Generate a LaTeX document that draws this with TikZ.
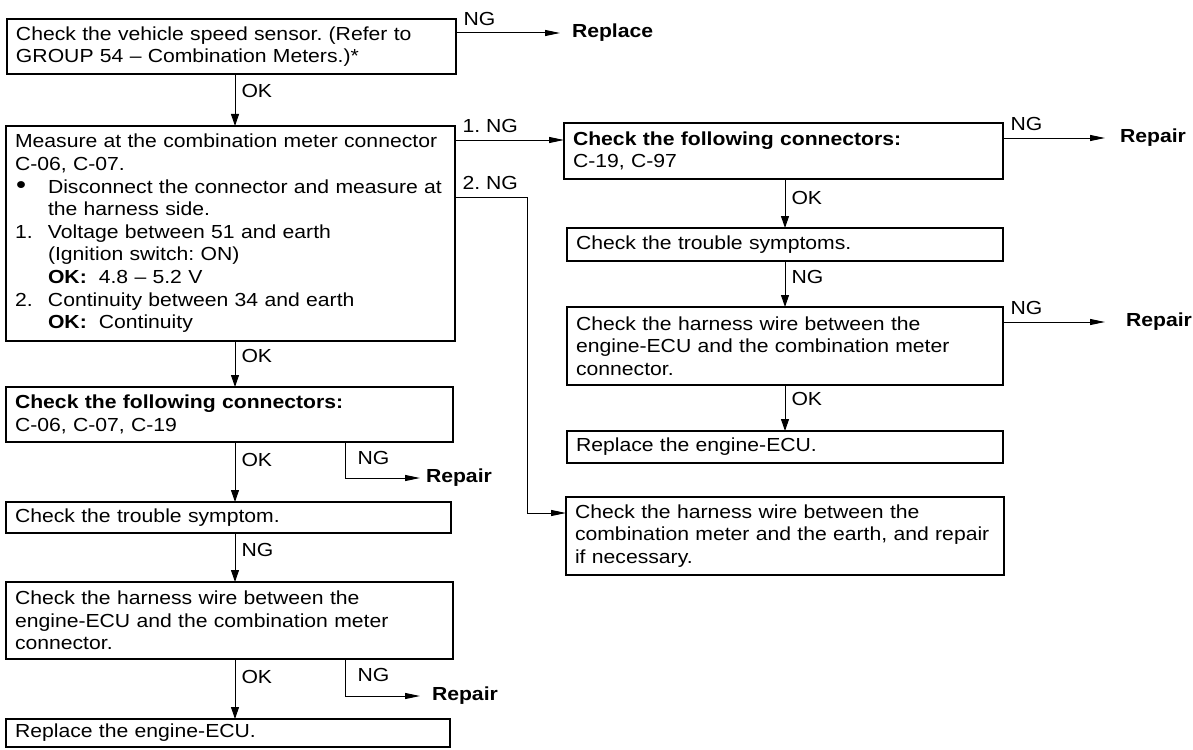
\documentclass[tikz,border=0pt]{standalone}
\usepackage{fontspec}
\setmainfont[FakeStretch=1.12]{Liberation Sans}
\usetikzlibrary{arrows.meta,positioning}
\tikzset
{
    chkbox/.style = {draw=black, line width=1.3pt, anchor=north west, align=left, inner xsep=9pt, inner ysep=0pt, outer sep=0pt},
    result/.style = {anchor=west, font=\bfseries, inner xsep=12pt, inner ysep=0pt, outer sep=0pt},
    lbl/.style    = {inner sep=6pt},
    flow/.style   = {line width=1pt, -{Triangle[length=12pt,width=8pt]}},
    side/.style   = {line width=1pt, -{Triangle[length=15pt,width=6pt]}}
}
\newcommand{\blt}{\makebox[33pt][l]{\kern1pt\scalebox{1.35}{\textbullet}}}

\begin{document}
\fontsize{18.9}{22.6}\selectfont
\frenchspacing
\spaceskip=7.3pt plus 1pt\relax
\begin{tikzpicture}[x=1pt, y=-1pt]
\useasboundingbox (0,0) rectangle (1193,749);

%% left column
\node (vss)  [chkbox, text width=431pt, minimum height=55pt]  at (7,19)   {Check the vehicle speed sensor. (Refer to\\GROUP 54 – Combination Meters.)*};
\node (meas) [chkbox, text width=431pt, minimum height=215pt] at (6,126)  {Measure at the combination meter connector\\C-06, C-07.\\\blt Disconnect the connector and measure at\\\hspace*{33pt}the harness side.\\\makebox[33pt][l]{1.}Voltage between 51 and earth\\\hspace*{33pt}(Ignition switch: ON)\\\hspace*{33pt}\textbf{OK:}\hspace{12pt}4.8 – 5.2 V\\\makebox[33pt][l]{2.}Continuity between 34 and earth\\\hspace*{33pt}\textbf{OK:}\hspace{12pt}Continuity};
\node (cn)   [chkbox, text width=429pt, minimum height=55pt]  at (6,387)  {\textbf{Check the following connectors:}\\C-06, C-07, C-19};
\node (ts)   [chkbox, text width=427pt, minimum height=31pt]  at (6,502)  {Check the trouble symptom.};
\node (hw)   [chkbox, text width=429pt, minimum height=77pt]  at (6,582)  {Check the harness wire between the\\engine-ECU and the combination meter\\connector.};
\node (ecu)  [chkbox, text width=426pt, minimum height=28pt]  at (6,719)  {Replace the engine-ECU.};

%% right column
\node (rcn)  [chkbox, text width=421pt, minimum height=56pt]  at (564,123) {\textbf{Check the following connectors:}\\C-19, C-97};
\node (rts)  [chkbox, text width=418pt, minimum height=33pt]  at (567,228) {Check the trouble symptoms.};
\node (rhw)  [chkbox, text width=418pt, minimum height=78pt]  at (567,307) {Check the harness wire between the\\engine-ECU and the combination meter\\connector.};
\node (recu) [chkbox, text width=418pt, minimum height=32pt]  at (567,431) {Replace the engine-ECU.};
\node (ehw)  [chkbox, text width=420pt, minimum height=78pt]  at (566,497) {Check the harness wire between the\\combination meter and the earth, and repair\\if necessary.};

\coordinate (colL) at (235,0);
\coordinate (colR) at (785,0);
\coordinate (ngA) at ([yshift=-14pt]vss.north east);
\coordinate (ng1) at ([yshift=-14pt]meas.north east);
\coordinate (ng2) at ([yshift=-71pt]meas.north east);
\coordinate (ngC) at ([yshift=-15pt]rcn.north east);
\coordinate (ngE) at ([yshift=-15pt]rhw.north east);
\coordinate (ngF) at ([xshift=-108pt]cn.south east);
\coordinate (ngH) at ([xshift=-108pt]hw.south east);
\coordinate (inG) at ([yshift=-16pt]ehw.north west);

\node (rep1) [result, right=104pt of ngA] {Replace};
\node (rep2) [result, right=102pt of ngC, inner xsep=15pt] {Repair};
\node (rep3) [result, inner xsep=6pt] at ([xshift=75pt,yshift=-36pt]ngF) {Repair};
\node (rep4) [result, right=102pt of ngE, inner xsep=21pt] {Repair};
\node (rep5) [result] at ([xshift=75pt,yshift=-37pt]ngH) {Repair};

\path
(vss.south -| colL)  edge[flow] node[lbl, right, pos=0.32] {OK} (meas.north -| colL)
(meas.south -| colL) edge[flow] node[lbl, right, pos=0.32] {OK} (cn.north -| colL)
(cn.south -| colL)   edge[flow] node[lbl, right, pos=0.30] {OK} (ts.north -| colL)
(ts.south -| colL)   edge[flow] node[lbl, right, pos=0.35] {NG} (hw.north -| colL)
(hw.south -| colL)   edge[flow] node[lbl, right, pos=0.30] {OK} (ecu.north -| colL)
(rcn.south -| colR)  edge[flow] node[lbl, right, pos=0.38] {OK} (rts.north -| colR)
(rts.south -| colR)  edge[flow] node[lbl, right, pos=0.34] {NG} (rhw.north -| colR)
(rhw.south -| colR)  edge[flow] node[lbl, right, pos=0.30] {OK} (recu.north -| colR);

\path
(ngA) edge[side] node[lbl, above right, pos=0, inner sep=7pt] {NG}    (rep1.west)
(ng1) edge[side] node[lbl, above right, pos=0, inner sep=7pt] {1. NG} (ng1 -| rcn.west)
(ngC) edge[side] node[lbl, above right, pos=0, inner sep=7pt] {NG}    (rep2.west)
(ngE) edge[side] node[lbl, above right, pos=0, inner sep=7pt] {NG}    (rep4.west);

\draw[side] (ngF) |- node[right, pos=0.22, inner xsep=12pt] {NG} (rep3.west);
\draw[side] (ngH) |- node[right, pos=0.22, inner xsep=12pt] {NG} (rep5.west);
\draw[side] (ng2) -- node[lbl, above right, pos=0, inner sep=7pt] {2. NG} ++(72,0) |- (inG);

\end{tikzpicture}
\end{document}
